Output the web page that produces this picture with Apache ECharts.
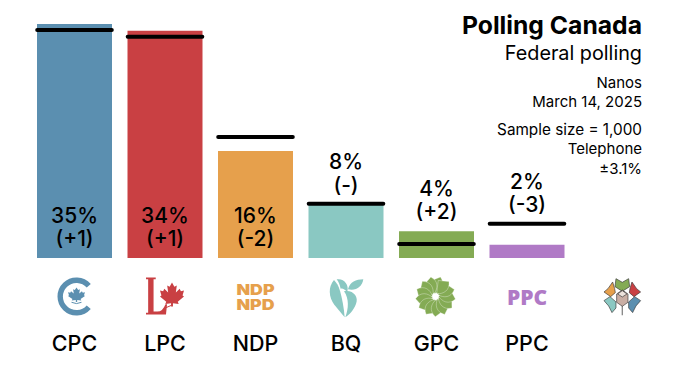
<!DOCTYPE html>
<html><head><meta charset="utf-8">
<style>html,body{margin:0;padding:0;background:#fff}#c{width:679px;height:369px}</style>
<script src="https://cdn.jsdelivr.net/npm/echarts@6/dist/echarts.min.js"></script>
</head><body><div id="c"></div>
<script>
const categories = ['CPC','LPC','NDP','BQ','GPC','PPC',''];
const values = [35,34,16,8,4,2];
const previous = [34,33,18,8,2,5];
const changes = ['+1','+1','-2','-','+2','-3'];
const colors = ['#5b8fb0','#c94043','#e6a04c','#8ac8c2','#84ab54','#b07ac6'];
const FONT = 'Inter';
const TXT = '#000';

const chart = echarts.init(document.getElementById('c'), null, {renderer:'svg'});

function lbl(i){ return values[i] + '%\n(' + changes[i] + ')'; }
const barData = values.map((v,i)=>({value:v,itemStyle:{color:colors[i]},
  label: v >= 16 ? {show:true,position:'insideBottom',distance:8,formatter:lbl(i)} : {show:false}}));
const prevData = previous.map((v,i)=>[i,v]);
const topData = values.map((v,i)=>({value:[categories[i],Math.max(v,previous[i])],
  label: v < 16 ? {show:true,formatter:lbl(i)} : {show:false}}));

const leaf='M50 0 L60 18 L70 12 L66 42 L82 26 L87 36 L100 33 L94 54 L100 58 L74 80 L78 90 L54 86 L54 100 L46 100 L46 86 L22 90 L26 80 L0 58 L6 54 L0 33 L13 36 L18 26 L34 42 L30 12 L40 18 Z';
function path(d,fill,o){return Object.assign({type:'path',shape:{pathData:d},style:{fill}},o||{});}
function gpc(){const c=[];for(let k=0;k<13;k++){c.push(path('M0 -3 C6 -6 10 -12 5 -19.5 L-5 -15.5 C-3 -10 -1.5 -6 0 -3Z',colors[4],{rotation:k/13*Math.PI*2,style:{fill:colors[4],stroke:'#fff',lineWidth:0.3}}));}
  c.push({type:'circle',shape:{cx:0,cy:0,r:2.8},style:{fill:'#fff'}});return c;}
const S={stroke:'#3a3a3a',lineWidth:2};
function em(d,fill){return path(d,fill,{style:Object.assign({fill},S)});}
const logoBuilders = [
  ()=>({x:2,y:0,children:[
    {type:'arc',shape:{cx:0,cy:0,r:16.3,startAngle:-0.72,endAngle:0.72,clockwise:false},style:{fill:null,stroke:colors[0],lineWidth:5.4}},
    {type:'group',x:-8.5,y:-9,scaleX:.17,scaleY:.145,children:[path(leaf,colors[0])]},
    {type:'arc',shape:{cx:0,cy:-4,r:11,startAngle:Math.PI*0.35,endAngle:Math.PI*0.65},style:{fill:null,stroke:colors[0],lineWidth:1}}
  ]}),
  ()=>({x:-5,y:0,children:[
    {type:'group',x:-14,y:-19,scaleX:.27,scaleY:.37,children:[path('M0 0 H36 V5 H28 V92 H42 Q62 92 72 72 H78 L74 100 H0 V95 H8 V5 H0 Z',colors[1])]},
    {type:'group',x:0,y:-14,scaleX:.24,scaleY:.24,children:[path(leaf,colors[1])]},
    {type:'line',shape:{x1:11,y1:9,x2:4,y2:12},style:{stroke:colors[1],lineWidth:1}}
  ]}),
  ()=>({x:0,y:0,scaleX:1.2,scaleY:1,children:[
    {type:'text',style:{x:0,y:-7.4,text:'NDP',fill:colors[2],font:'900 14.8px "Inter"',align:'center',verticalAlign:'middle'}},
    {type:'text',style:{x:0,y:7.6,text:'NPD',fill:colors[2],font:'900 14.8px "Inter"',align:'center',verticalAlign:'middle'}}
  ]}),
  ()=>({x:-26,y:-26.5,scaleX:1/3,scaleY:1/3,children:[
    path('M42 30 C24 50 26 82 43 104 L74 142 C72 112 66 84 60 62 C56 48 50 38 42 30Z',colors[3]),
    path('M50 28 C72 24 88 44 82 66 C74 58 68 54 62 56 C60 45 56 36 50 28Z',colors[3]),
    path('M72 64 C98 58 118 80 108 102 C100 122 88 134 76 142 C86 116 88 86 72 64Z',colors[3]),
    path('M84 58 C90 36 108 28 130 28 C127 50 108 64 84 58Z',colors[3])
  ]}),
  ()=>({x:-1,y:0,children:gpc()}),
  ()=>({x:0,y:0,children:[
    {type:'text',style:{x:0,y:0,text:'PPC',fill:colors[5],font:'800 21px "Open Sans"',align:'center',verticalAlign:'middle'}}
  ]}),
  ()=>({x:-19.5,y:-26.5,scaleX:1/3,scaleY:1/3,children:[
    {type:'line',shape:{x1:73,y1:105,x2:73,y2:136},style:{stroke:'#888',lineWidth:4}},
    em('M54 26 L73 37 L92 26 L95 50 L73 64 L51 50Z','#84ab54'),
    em('M44 36 L50 56 L52 68 L38 80 L18 66 L30 56Z','#e6a04c'),
    em('M102 36 L96 56 L94 68 L108 80 L128 66 L116 56Z','#c94043'),
    em('M18 92 L36 80 L54 96 L54 114 L42 128 L32 108Z','#8ac8c2'),
    em('M128 92 L110 80 L92 96 L92 114 L104 128 L114 108Z','#5b8fb0'),
    em('M73 60 L90 72 L90 97 L73 109 L56 97 L56 72Z','#c9aea4'),
    em('M73 62 L87 72 L73 81 L59 72Z','#ece2dc')
  ]})
];
const LOGO_Y = -38.5;

const head=[['Polling Canada',24.5,'700 24.7px'],['Federal polling',53,'400 19.8px'],['Nanos',82,'400 15px'],['March 14, 2025',101,'400 15px'],['Sample size = 1,000',129,'400 15.3px'],['Telephone',148,'400 15px'],['±3.1%',168,'400 15px']];
const texts=head.map(h=>({type:'text',silent:true,style:{x:642,y:h[1],text:h[0],fill:TXT,font:h[2]+' "'+FONT+'"',align:'right',verticalAlign:'middle'}}));

chart.setOption({
  animation:false,
  backgroundColor:'#fff',
  grid:{left:29.25,right:16.25,top:24,bottom:111,containLabel:false},
  xAxis:{type:'category',data:categories,axisLine:{show:false},axisTick:{show:false},
    axisLabel:{interval:0,margin:85,color:TXT,fontFamily:FONT,fontSize:21.5,fontWeight:500,verticalAlign:'middle'}},
  yAxis:{type:'value',min:0,max:35,show:false,splitLine:{show:false}},
  series:[
    {type:'bar',data:barData,barWidth:75,label:{color:TXT,fontFamily:FONT,fontSize:21,fontWeight:500,lineHeight:23}},
    {type:'scatter',data:topData,symbol:'rect',symbolSize:[1,1],itemStyle:{color:'rgba(0,0,0,0)',opacity:1},
      label:{position:'top',distance:8,color:TXT,fontFamily:FONT,fontSize:21,fontWeight:500,lineHeight:23}},
    {type:'custom',data:prevData,encode:{x:0,y:1},z:5,clip:false,
      renderItem:(p,api)=>{const c=api.coord([api.value(0),api.value(1)]);const half=api.size([1,0])[0]*37.3/90.5;
        return {type:'line',shape:{x1:c[0]-half,y1:c[1]-0.7,x2:c[0]+half,y2:c[1]-0.7},style:{stroke:'#000',lineWidth:4,lineCap:'round'}};}},
    {type:'custom',silent:true,clip:false,data:categories.map((c,i)=>[i]),encode:{x:0},
      renderItem:(p,api)=>{const pt=api.coord([api.value(0),0]);
        const l=logoBuilders[p.dataIndex]();
        return Object.assign({type:'group'},l,{x:pt[0]+l.x,y:pt[1]-LOGO_Y+l.y});}}
  ],
  graphic:{elements:texts}
});
</script></body></html>
